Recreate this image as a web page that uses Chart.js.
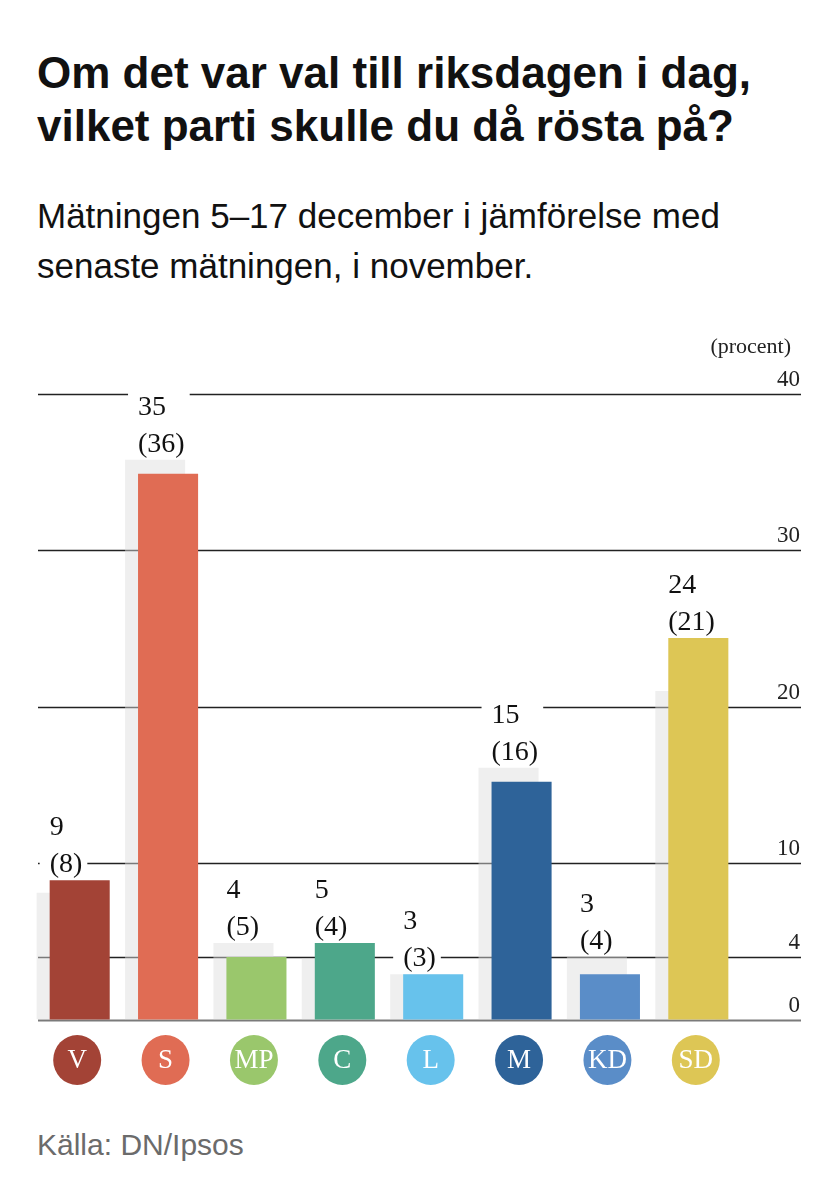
<!DOCTYPE html>
<html>
<head>
<meta charset="utf-8">
<script src="https://cdn.jsdelivr.net/npm/chart.js@4/dist/chart.umd.min.js"></script>
<style>
  body { margin: 0; background: #fff; width: 839px; height: 1200px; position: relative; overflow: hidden; }
  .title { position: absolute; left: 37px; top: 46px; font: bold 44px "Liberation Sans", Arial, sans-serif; line-height: 53px; color: #111; }
  .sub { position: absolute; left: 37px; top: 191px; font: 35px "Liberation Sans", Arial, sans-serif; line-height: 50px; color: #111; }
  .src { position: absolute; left: 37px; top: 1128px; font: 30px "Liberation Sans", Arial, sans-serif; color: #6b6b6b; }
  .wrap { position: absolute; left: 0; top: 330px; width: 839px; height: 770px; }
</style>
</head>
<body>
<div class="title">Om det var val till riksdagen i dag,<br>vilket parti skulle du då rösta på?</div>
<div class="sub">Mätningen 5–17 december i jämförelse med<br>senaste mätningen, i november.</div>
<div class="wrap"><canvas id="poll"></canvas></div>
<div class="src">Källa: DN/Ipsos</div>
<script>
// partier och värden (procent)
const parties = ['V', 'S', 'MP', 'C', 'L', 'M', 'KD', 'SD'];
const december = [8.9, 34.9, 4.0, 4.9, 2.9, 15.2, 2.9, 24.4];
const november = [8.1, 35.8, 4.9, 3.9, 2.9, 16.1, 4.0, 21.0];
const partyColors = ['#a34336', '#e06c54', '#9ac76c', '#4da78a', '#67c2ec', '#2e6399', '#5a8dc8', '#ddc655'];
const yTicks = [0, 4, 10, 20, 30, 40];

const serif = '"Liberation Serif", "Times New Roman", serif';

const pollPlugin = {
    id: 'pollDecor',
    beforeDatasetsDraw(chart) {
        const ctx = chart.ctx;
        const y = chart.scales.y;
        ctx.save();
        ctx.font = '23px ' + serif;
        ctx.textAlign = 'right';
        ctx.textBaseline = 'alphabetic';
        yTicks.forEach(t => {
            const py = Math.round(y.getPixelForValue(t)) + 0.5;
            ctx.beginPath();
            ctx.moveTo(38, py);
            ctx.lineTo(801, py);
            ctx.lineWidth = t === 0 ? 2 : 1.5;
            ctx.strokeStyle = t === 0 ? '#7a7a7a' : '#222';
            ctx.stroke();
            ctx.fillStyle = '#222';
            ctx.fillText(String(t), 800, py - 9);
        });
        ctx.font = '22px ' + serif;
        ctx.fillText('(procent)', 791, 23);
        ctx.restore();
    },
    // december-staplarna ska ligga ovanpå november
    beforeDatasetDraw(chart, args) {
        if (args.index === 1) return false;
    },
    afterDatasetDraw(chart, args) {
        if (args.index === 0) chart.getDatasetMeta(1).controller.draw();
    },
    afterDatasetsDraw(chart) {
        const ctx = chart.ctx;
        const prevBars = chart.getDatasetMeta(0).data;
        const curBars = chart.getDatasetMeta(1).data;
        const x = chart.scales.x;
        ctx.save();
        ctx.font = '28px ' + serif;
        ctx.textAlign = 'left';
        ctx.textBaseline = 'alphabetic';
        parties.forEach((p, i) => {
            const bar = curBars[i];
            const left = bar.x - bar.width / 2;
            const top = Math.min(bar.y, prevBars[i].y);
            const line2 = top - 8;
            const line1 = line2 - 37;
            const t1 = String(Math.round(december[i]));
            const t2 = '(' + Math.round(november[i]) + ')';
            const w = Math.max(ctx.measureText(t1).width, ctx.measureText(t2).width);
            ctx.fillStyle = '#fff';
            ctx.fillRect(left - 10, line1 - 26, w + 15, line2 - line1 + 31);
            ctx.fillStyle = '#111';
            ctx.fillText(t1, left, line1);
            ctx.fillText(t2, left, line2);
        });
        // partisymboler under staplarna
        ctx.textAlign = 'center';
        ctx.textBaseline = 'middle';
        ctx.font = '27px ' + serif;
        parties.forEach((p, i) => {
            const cx = x.getPixelForValue(i) + 4;
            const cy = 730;
            ctx.beginPath();
            ctx.ellipse(cx, cy, 24, 25, 0, 0, Math.PI * 2);
            ctx.fillStyle = partyColors[i];
            ctx.fill();
            ctx.fillStyle = '#fff';
            ctx.fillText(p, cx, cy + 1);
        });
        ctx.restore();
    }
};

new Chart(document.getElementById('poll'), {
    type: 'bar',
    data: {
        labels: parties,
        datasets: [
            {
                label: 'November',
                data: november,
                backgroundColor: 'rgba(221,221,221,0.47)',
            },
            {
                label: 'December',
                data: december,
                backgroundColor: partyColors,
            },
        ],
    },
    options: {
        responsive: true,
        maintainAspectRatio: false,
        animation: false,
        categoryPercentage: 0.2945,
        barPercentage: 4.615,
        layout: { padding: { left: 29, right: 103, top: 64, bottom: 80.5 } },
        plugins: {
            legend: { display: false },
            tooltip: { enabled: false },
        },
        scales: {
            x: { display: false },
            y: { display: false, min: 0, max: 40 },
        },
    },
    plugins: [pollPlugin],
});
</script>
</body>
</html>
